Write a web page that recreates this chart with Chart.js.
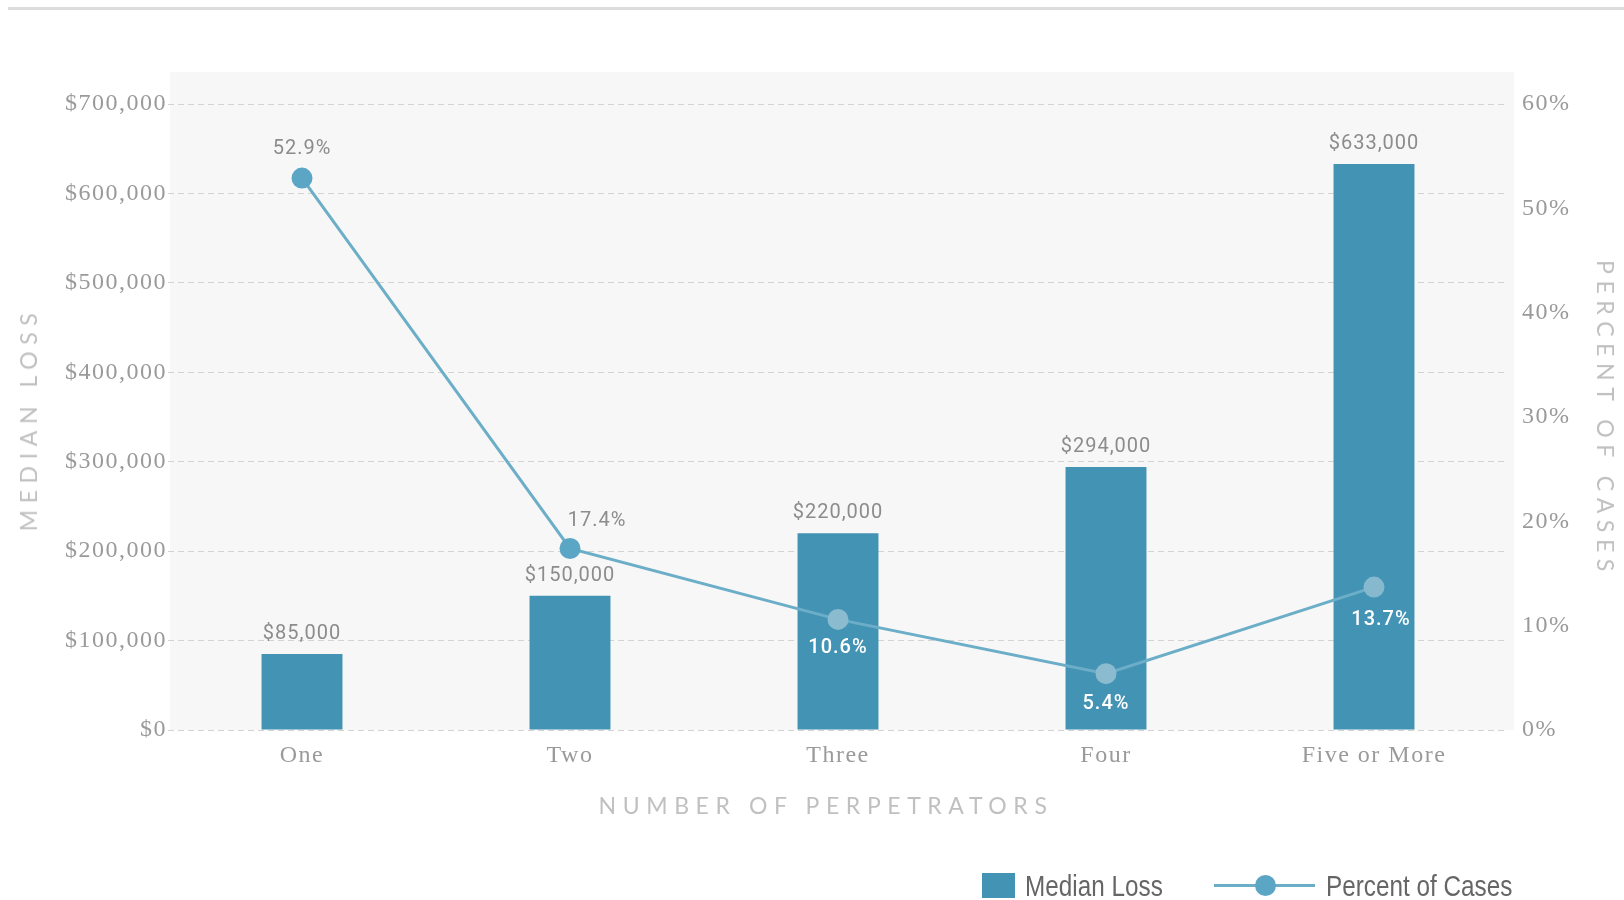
<!DOCTYPE html>
<html>
<head>
<meta charset="utf-8">
<title>Median Loss by Number of Perpetrators</title>
<script src="https://cdn.jsdelivr.net/npm/chart.js@4.4.0/dist/chart.umd.min.js"></script>
<style>
  body { margin: 0; background: #fff; width: 1624px; height: 900px; overflow: hidden; position: relative; }
  #topRule { position: absolute; left: 8px; right: 0; top: 7px; height: 3px; background: #dcdcdc; }
  #chart { position: absolute; left: 0; top: 0; }
  .axisTitle {
    position: absolute; color: #c0c0c0; white-space: nowrap;
    font-family: Lato, "Open Sans", sans-serif; font-weight: 400; font-size: 23px; letter-spacing: 6.6px;
  }
  #xTitle { left: 826px; top: 805px; transform: translate(-50%, -50%); }
  #yTitle { left: 28px; top: 419px; transform: translate(-50%, -50%) rotate(-90deg); }
  #y2Title { left: 1606px; top: 419px; transform: translate(-50%, -50%) rotate(90deg); }
  #legend {
    position: absolute; left: 0; top: 870px; width: 1624px; height: 32px;
    font-family: "Liberation Sans", Arial, sans-serif; font-size: 30px; color: #666;
  }
  #legend .box { position: absolute; top: 3px; width: 33px; height: 25px; }
  #legend .line { position: absolute; top: 14px; width: 101px; height: 3px; }
  #legend .dot { position: absolute; left: 41px; top: -9px; width: 21px; height: 21px; border-radius: 50%; }
  #legend .text { position: absolute; top: -2px; line-height: 36px; white-space: nowrap;
                  transform: scaleX(0.81); transform-origin: 0 50%; }
</style>
</head>
<body>
<div id="topRule"></div>
<canvas id="chart" width="1624" height="900"></canvas>
<div class="axisTitle" id="yTitle">MEDIAN LOSS</div>
<div class="axisTitle" id="y2Title">PERCENT OF CASES</div>
<div class="axisTitle" id="xTitle">NUMBER OF PERPETRATORS</div>
<div id="legend"></div>
<script>
const categories = ['One', 'Two', 'Three', 'Four', 'Five or More'];
const medianLoss = [85000, 150000, 220000, 294000, 633000];
const percentOfCases = [52.9, 17.4, 10.6, 5.4, 13.7];
const lossTicks = [0, 100000, 200000, 300000, 400000, 500000, 600000, 700000];
const percentTicks = [0, 10, 20, 30, 40, 50, 60];

const barColor = '#4393b4';
const lineColor = '#6caec8';
const pointColors = ['#5ba5c5', '#5ba5c5', '#8bbbcf', '#8bbbcf', '#86b9ce'];
const tickColor = '#9a9a9a';
const labelGray = '#8c8c8c';

// where each percent label sits relative to its point, and its colour
const pctLabelOffset = [[0, -29], [27, -27], [0, 29], [0, 30], [7, 33]];
const pctLabelColor = [labelGray, labelGray, '#fff', '#fff', '#fff'];

// legend swatch / text left edges
const legendSwatchX = [982, 1214];
const legendTextX = [1025, 1326];

const money = v => '$' + v.toLocaleString('en-US');

// light panel behind the plot, and wider letter spacing for the serif ticks
const plotPanel = {
  id: 'plotPanel',
  beforeDraw(chart) {
    const { ctx, chartArea } = chart;
    ctx.save();
    ctx.fillStyle = '#f7f7f7';
    ctx.fillRect(chartArea.left + 2, 72, chartArea.right - chartArea.left + 4, chartArea.bottom - 72);
    ctx.restore();
    ctx.letterSpacing = '1.5px';
  }
};

const valueLabels = {
  id: 'valueLabels',
  afterDatasetsDraw(chart) {
    const ctx = chart.ctx;
    ctx.save();
    ctx.letterSpacing = '1px';
    ctx.textAlign = 'center';
    ctx.textBaseline = 'middle';

    ctx.font = '20px Roboto, "Liberation Sans", sans-serif';
    chart.getDatasetMeta(0).data.forEach((bar, i) => {
      ctx.fillStyle = labelGray;
      ctx.fillText(money(medianLoss[i]), bar.x, bar.y - 20);
    });

    chart.getDatasetMeta(1).data.forEach((pt, i) => {
      ctx.font = (i > 1 ? '500 ' : '') + '20px Roboto, "Liberation Sans", sans-serif';
      ctx.fillStyle = pctLabelColor[i];
      ctx.fillText(percentOfCases[i].toFixed(1) + '%', pt.x + pctLabelOffset[i][0], pt.y + pctLabelOffset[i][1]);
    });
    ctx.restore();
  }
};

const tickFont = { family: '"Liberation Serif", "Times New Roman", serif', size: 24 };

const chart = new Chart(document.getElementById('chart'), {
  data: {
    labels: categories,
    datasets: [
      {
        type: 'bar',
        label: 'Median Loss',
        data: medianLoss,
        backgroundColor: barColor,
        barPercentage: 0.302,
        categoryPercentage: 1,
        yAxisID: 'y',
        order: 2
      },
      {
        type: 'line',
        label: 'Percent of Cases',
        data: percentOfCases,
        borderColor: lineColor,
        borderWidth: 3,
        tension: 0,
        pointRadius: 10.5,
        pointBorderWidth: 0,
        pointBackgroundColor: pointColors,
        yAxisID: 'y1',
        order: 1
      }
    ]
  },
  options: {
    responsive: false,
    animation: false,
    devicePixelRatio: 1,
    layout: { padding: { top: 104, bottom: 130, left: 0, right: 0 } },
    plugins: { legend: { display: false }, tooltip: { enabled: false } },
    scales: {
      x: {
        grid: { display: false },
        border: { display: false },
        ticks: { color: tickColor, font: tickFont, padding: 3 },
        afterFit(s) { s.height = 40; }
      },
      y: {
        position: 'left',
        min: lossTicks[0],
        max: lossTicks[lossTicks.length - 1],
        afterBuildTicks(s) { s.ticks = lossTicks.map(v => ({ value: v })); },
        ticks: { color: tickColor, font: tickFont, padding: 1, callback: v => money(v) },
        grid: { color: '#d3d3d3', lineWidth: 1, drawTicks: false },
        border: { display: false, dash: [6, 4] },
        afterFit(s) { s.width = 168; }
      },
      y1: {
        position: 'right',
        min: percentTicks[0],
        max: percentTicks[percentTicks.length - 1],
        afterBuildTicks(s) { s.ticks = percentTicks.map(v => ({ value: v })); },
        ticks: { color: tickColor, font: tickFont, padding: 14, callback: v => v + '%' },
        grid: { display: false, drawTicks: false },
        border: { display: false },
        afterFit(s) { s.width = 116; }
      }
    }
  },
  plugins: [plotPanel, valueLabels]
});

// legend built from the datasets
const legend = document.getElementById('legend');
chart.data.datasets.forEach((ds, i) => {
  const swatch = document.createElement('span');
  if (ds.type === 'bar') {
    swatch.className = 'box';
    swatch.style.background = ds.backgroundColor;
  } else {
    swatch.className = 'line';
    swatch.style.background = ds.borderColor;
    const dot = document.createElement('span');
    dot.className = 'dot';
    dot.style.background = pointColors[0];
    swatch.appendChild(dot);
  }
  swatch.style.left = legendSwatchX[i] + 'px';
  legend.appendChild(swatch);

  const text = document.createElement('span');
  text.className = 'text';
  text.style.left = legendTextX[i] + 'px';
  text.textContent = ds.label;
  legend.appendChild(text);
});
</script>
</body>
</html>
